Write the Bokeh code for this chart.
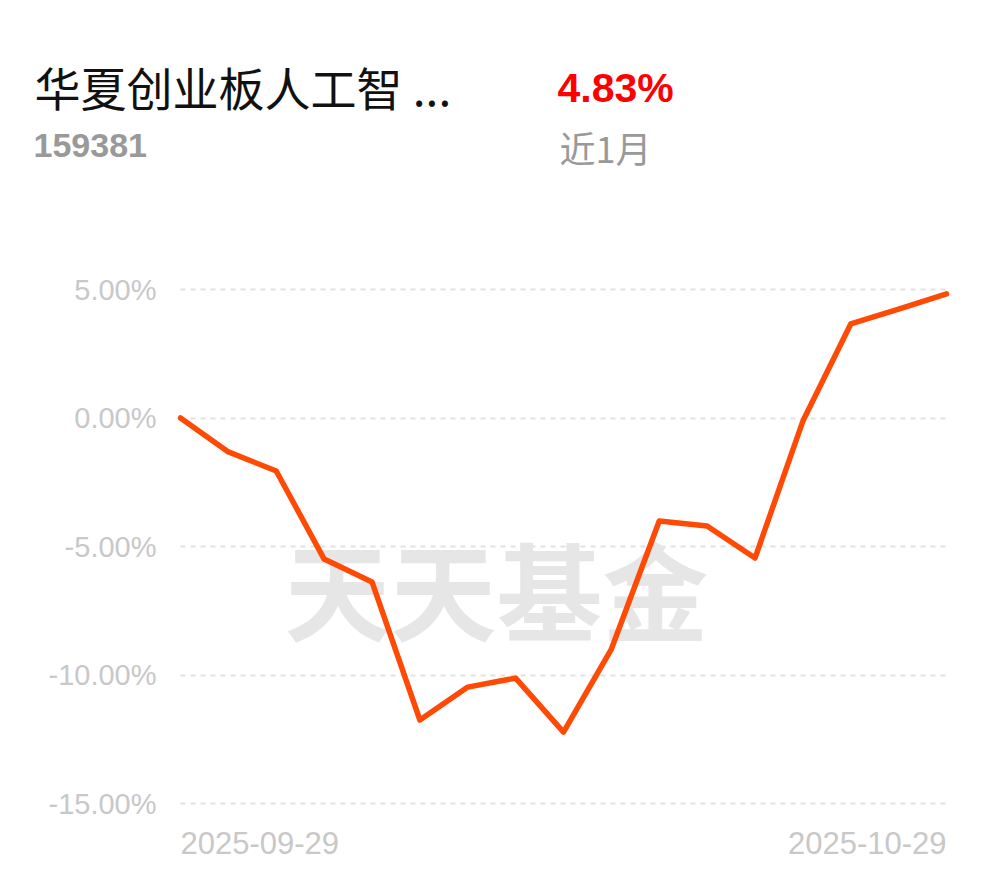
from bokeh.plotting import figure
from bokeh.models import FixedTicker, PrintfTickFormatter, Range1d
from bokeh.core.properties import value
from bokeh.embed import file_html
from bokeh.resources import INLINE

fund_name = "华夏创业板人工智 ..."
fund_code = "159381"
period_return = "4.83%"
period_label = "近1月"
watermark = "天天基金"

dates = ["2025-09-29", "2025-09-30", "2025-10-09", "2025-10-10", "2025-10-13",
         "2025-10-14", "2025-10-15", "2025-10-16", "2025-10-17", "2025-10-20",
         "2025-10-21", "2025-10-22", "2025-10-23", "2025-10-24", "2025-10-27",
         "2025-10-28", "2025-10-29"]
returns = [0.00, -1.32, -2.06, -5.49, -6.38, -11.75, -10.47, -10.12, -12.22,
           -8.99, -4.01, -4.20, -5.45, -0.12, 3.66, 4.24, 4.83]
y_ticks = [-15, -10, -5, 0, 5]

W, H = 982, 870
FONT = "Liberation Sans"
CJK = "Noto Sans CJK SC"

# plot area: x 0..16 spans px 180..946, y -15..5 spans px 803..289
last = len(returns) - 1
kx = (946 - 180) / last
ky = (803 - 289) / 20.0
x_range = Range1d(-180 / kx, last + (W - 946) / kx)
y_range = Range1d(5 - (H - 289) / ky, 5 + 289 / ky)

p = figure(width=W, height=H, output_backend="svg", toolbar_location=None,
           x_range=x_range, y_range=y_range,
           min_border=0, min_border_left=0, min_border_right=0,
           min_border_top=0, min_border_bottom=0)
p.extra_x_ranges = {"px": Range1d(0, W)}
p.extra_y_ranges = {"px": Range1d(H, 0)}
p.outline_line_color = None
p.xaxis.visible = False
p.xgrid.visible = False

yax = p.yaxis[0]
yax.fixed_location = 0
yax.ticker = FixedTicker(ticks=y_ticks)
yax.formatter = PrintfTickFormatter(format="%.2f%%")
yax.axis_line_color = None
yax.major_tick_line_color = None
yax.minor_tick_line_color = None
yax.major_label_standoff = 18
yax.major_label_text_font = FONT
yax.major_label_text_font_size = "29px"
yax.major_label_text_color = "#c8c8c8"

grid = p.ygrid[0]
grid.ticker = FixedTicker(ticks=y_ticks)
grid.grid_line_color = "#e2e2e2"
grid.grid_line_width = 2
grid.grid_line_dash = "5 5"
grid.cross_bounds = (0, last)

# watermark
p.text(x=[496], y=[586], text=[watermark], text_font=value(CJK),
       text_font_size="106px", text_font_style="bold", text_color="#e6e6e6",
       text_align="center", text_baseline="middle",
       x_range_name="px", y_range_name="px")

p.line(list(range(len(returns))), returns, line_color="#ff4a05", line_width=5.5,
       line_join="round", line_cap="round")

# date labels under the first and last points
p.text(x=[0], y=[-16.55], text=[dates[0]], text_font=value(FONT),
       text_font_size="31px", text_color="#c8c8c8", text_align="left",
       text_baseline="middle")
p.text(x=[last], y=[-16.55], text=[dates[-1]], text_font=value(FONT),
       text_font_size="31px", text_color="#c8c8c8", text_align="right",
       text_baseline="middle")

# header
hdr = [
    (fund_name, 34, 85, CJK, "46px", "normal", "#111111"),
    (fund_code, 33, 145, FONT, "34px", "bold", "#999999"),
    (period_return, 557, 87, FONT, "41px", "bold", "#ff0000"),
    (period_label, 559, 146, CJK, "36px", "normal", "#999999"),
]
for txt, sx, sy, fnt, fs, st, col in hdr:
    p.text(x=[sx], y=[sy], text=[txt], text_font=value(fnt),
           text_font_size=fs, text_font_style=st, text_color=col,
           text_align="left", text_baseline="middle",
           x_range_name="px", y_range_name="px")

open("out.html", "w").write(file_html(p, INLINE))
